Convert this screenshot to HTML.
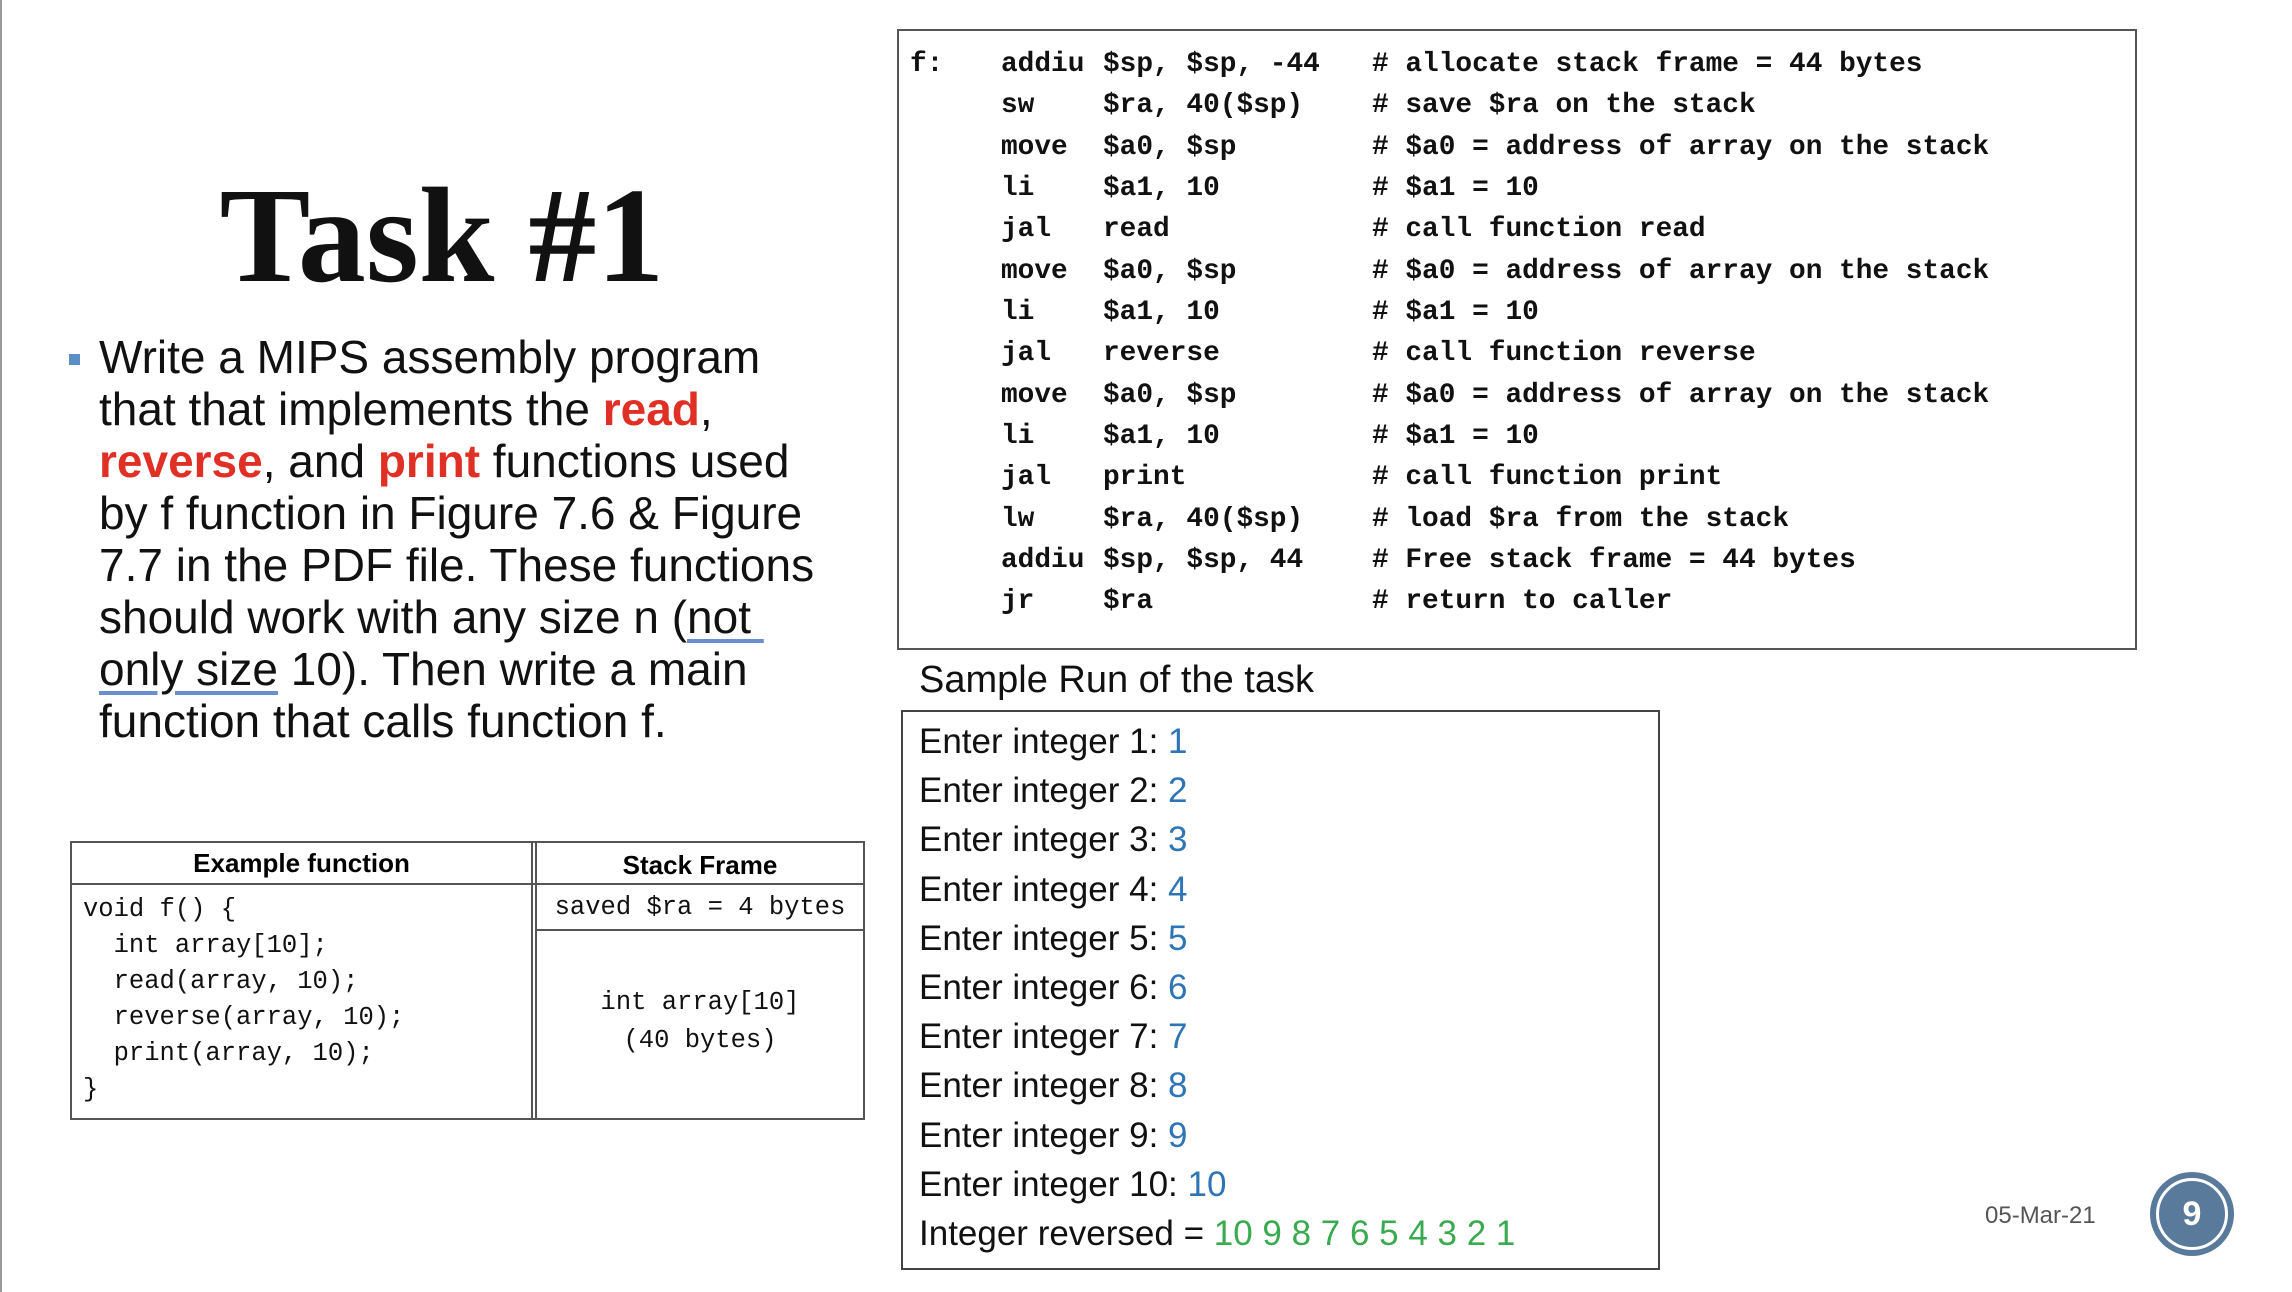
<!DOCTYPE html>
<html><head><meta charset="utf-8">
<style>
body{margin:0;width:2292px;height:1292px;position:relative;background:#fff;overflow:hidden;font-family:"Liberation Sans",sans-serif;}
.a{position:absolute;white-space:pre;}
.code{font-family:"Liberation Mono",monospace;font-weight:bold;font-size:27.8px;color:#111;}
.row{position:absolute;height:40px;line-height:40px;}
.red{color:#e03026;font-weight:bold;}
.u{text-decoration:underline;text-decoration-color:#6a8fd0;text-underline-offset:6px;}
.run{position:absolute;left:919px;font-size:35px;line-height:44px;height:44px;color:#111;}
.b{color:#2e75b6}.g{color:#3aaa50}
.tc{font-family:"Liberation Mono",monospace;font-size:25.5px;color:#111;}
</style></head><body>
<div style="position:absolute;left:0;top:0;width:2px;height:1292px;background:#9a9a9a"></div>

<div class="a" style="left:192px;top:166px;width:500px;text-align:center;font-family:'Liberation Serif',serif;font-weight:bold;font-size:136px;line-height:140px;color:#111">Task #1</div>

<div style="position:absolute;left:69px;top:354px;width:11px;height:11px;background:#5b8ec4"></div>
<div class="a" style="left:99px;top:331px;font-size:46px;line-height:52px;color:#111">Write a MIPS assembly program
that that implements the <span class="red">read</span>,
<span class="red">reverse</span>, and <span class="red">print</span> functions used
by f function in Figure 7.6 &amp; Figure
7.7 in the PDF file. These functions
should work with any size n (<span class="u">not </span>
<span class="u">only size</span> 10). Then write a main
function that calls function f.</div>

<!-- code box -->
<div style="position:absolute;left:897px;top:29px;width:1236px;height:617px;border:2px solid #555"></div>
<div class="code">
<div class="row" style="left:910px;top:45px">f:</div>
<div class="row" style="left:1001px;top:45px">addiu</div><div class="row" style="left:1103px;top:45px">$sp, $sp, -44</div><div class="row" style="left:1372px;top:45px"># allocate stack frame = 44 bytes</div>
<div class="row" style="left:1001px;top:86px">sw</div><div class="row" style="left:1103px;top:86px">$ra, 40($sp)</div><div class="row" style="left:1372px;top:86px"># save $ra on the stack</div>
<div class="row" style="left:1001px;top:128px">move</div><div class="row" style="left:1103px;top:128px">$a0, $sp</div><div class="row" style="left:1372px;top:128px"># $a0 = address of array on the stack</div>
<div class="row" style="left:1001px;top:169px">li</div><div class="row" style="left:1103px;top:169px">$a1, 10</div><div class="row" style="left:1372px;top:169px"># $a1 = 10</div>
<div class="row" style="left:1001px;top:210px">jal</div><div class="row" style="left:1103px;top:210px">read</div><div class="row" style="left:1372px;top:210px"># call function read</div>
<div class="row" style="left:1001px;top:252px">move</div><div class="row" style="left:1103px;top:252px">$a0, $sp</div><div class="row" style="left:1372px;top:252px"># $a0 = address of array on the stack</div>
<div class="row" style="left:1001px;top:293px">li</div><div class="row" style="left:1103px;top:293px">$a1, 10</div><div class="row" style="left:1372px;top:293px"># $a1 = 10</div>
<div class="row" style="left:1001px;top:334px">jal</div><div class="row" style="left:1103px;top:334px">reverse</div><div class="row" style="left:1372px;top:334px"># call function reverse</div>
<div class="row" style="left:1001px;top:376px">move</div><div class="row" style="left:1103px;top:376px">$a0, $sp</div><div class="row" style="left:1372px;top:376px"># $a0 = address of array on the stack</div>
<div class="row" style="left:1001px;top:417px">li</div><div class="row" style="left:1103px;top:417px">$a1, 10</div><div class="row" style="left:1372px;top:417px"># $a1 = 10</div>
<div class="row" style="left:1001px;top:458px">jal</div><div class="row" style="left:1103px;top:458px">print</div><div class="row" style="left:1372px;top:458px"># call function print</div>
<div class="row" style="left:1001px;top:500px">lw</div><div class="row" style="left:1103px;top:500px">$ra, 40($sp)</div><div class="row" style="left:1372px;top:500px"># load $ra from the stack</div>
<div class="row" style="left:1001px;top:541px">addiu</div><div class="row" style="left:1103px;top:541px">$sp, $sp, 44</div><div class="row" style="left:1372px;top:541px"># Free stack frame = 44 bytes</div>
<div class="row" style="left:1001px;top:582px">jr</div><div class="row" style="left:1103px;top:582px">$ra</div><div class="row" style="left:1372px;top:582px"># return to caller</div>
</div>

<div class="a" style="left:919px;top:658px;font-size:38px;line-height:44px;color:#111">Sample Run of the task</div>

<div style="position:absolute;left:901px;top:710px;width:755px;height:556px;border:2px solid #444"></div>
<div class="run" style="top:720px">Enter integer 1: <span class="b">1</span></div>
<div class="run" style="top:769px">Enter integer 2: <span class="b">2</span></div>
<div class="run" style="top:818px">Enter integer 3: <span class="b">3</span></div>
<div class="run" style="top:868px">Enter integer 4: <span class="b">4</span></div>
<div class="run" style="top:917px">Enter integer 5: <span class="b">5</span></div>
<div class="run" style="top:966px">Enter integer 6: <span class="b">6</span></div>
<div class="run" style="top:1015px">Enter integer 7: <span class="b">7</span></div>
<div class="run" style="top:1064px">Enter integer 8: <span class="b">8</span></div>
<div class="run" style="top:1114px">Enter integer 9: <span class="b">9</span></div>
<div class="run" style="top:1163px">Enter integer 10: <span class="b">10</span></div>
<div class="run" style="top:1212px">Integer reversed = <span class="g">10 9 8 7 6 5 4 3 2 1</span></div>

<!-- table -->
<div style="position:absolute;left:70px;top:841px;width:791px;height:275px;border:2px solid #555"></div>
<div style="position:absolute;left:531px;top:841px;width:6px;height:277px;border-left:2px solid #555;border-right:2px solid #555;box-sizing:border-box"></div>
<div style="position:absolute;left:70px;top:883px;width:793px;height:2px;background:#555"></div>
<div style="position:absolute;left:535px;top:929px;width:328px;height:2px;background:#555"></div>
<div class="a" style="left:70px;top:845px;width:463px;text-align:center;font-weight:bold;font-size:26px;line-height:36px">Example function</div>
<div class="a" style="left:537px;top:847px;width:326px;text-align:center;font-weight:bold;font-size:26px;line-height:36px">Stack Frame</div>
<div class="a tc" style="left:83px;top:892px;line-height:36.1px">void f() {
  int array[10];
  read(array, 10);
  reverse(array, 10);
  print(array, 10);
}</div>
<div class="a tc" style="left:537px;top:890px;width:326px;text-align:center;line-height:36px">saved $ra = 4 bytes</div>
<div class="a tc" style="left:537px;top:984px;width:326px;text-align:center;line-height:38px">int array[10]
(40 bytes)</div>

<div class="a" style="left:1985px;top:1202px;font-size:24px;line-height:28px;color:#555">05-Mar-21</div>
<div style="position:absolute;left:2150px;top:1172px;width:84px;height:84px;border-radius:50%;background:#5a7a9c;box-sizing:border-box"></div>
<div style="position:absolute;left:2156px;top:1178px;width:72px;height:72px;border-radius:50%;border:3px solid #fff;box-sizing:border-box"></div>
<div class="a" style="left:2150px;top:1194px;width:84px;text-align:center;font-weight:bold;font-size:34px;line-height:40px;color:#fff">9</div>
</body></html>
